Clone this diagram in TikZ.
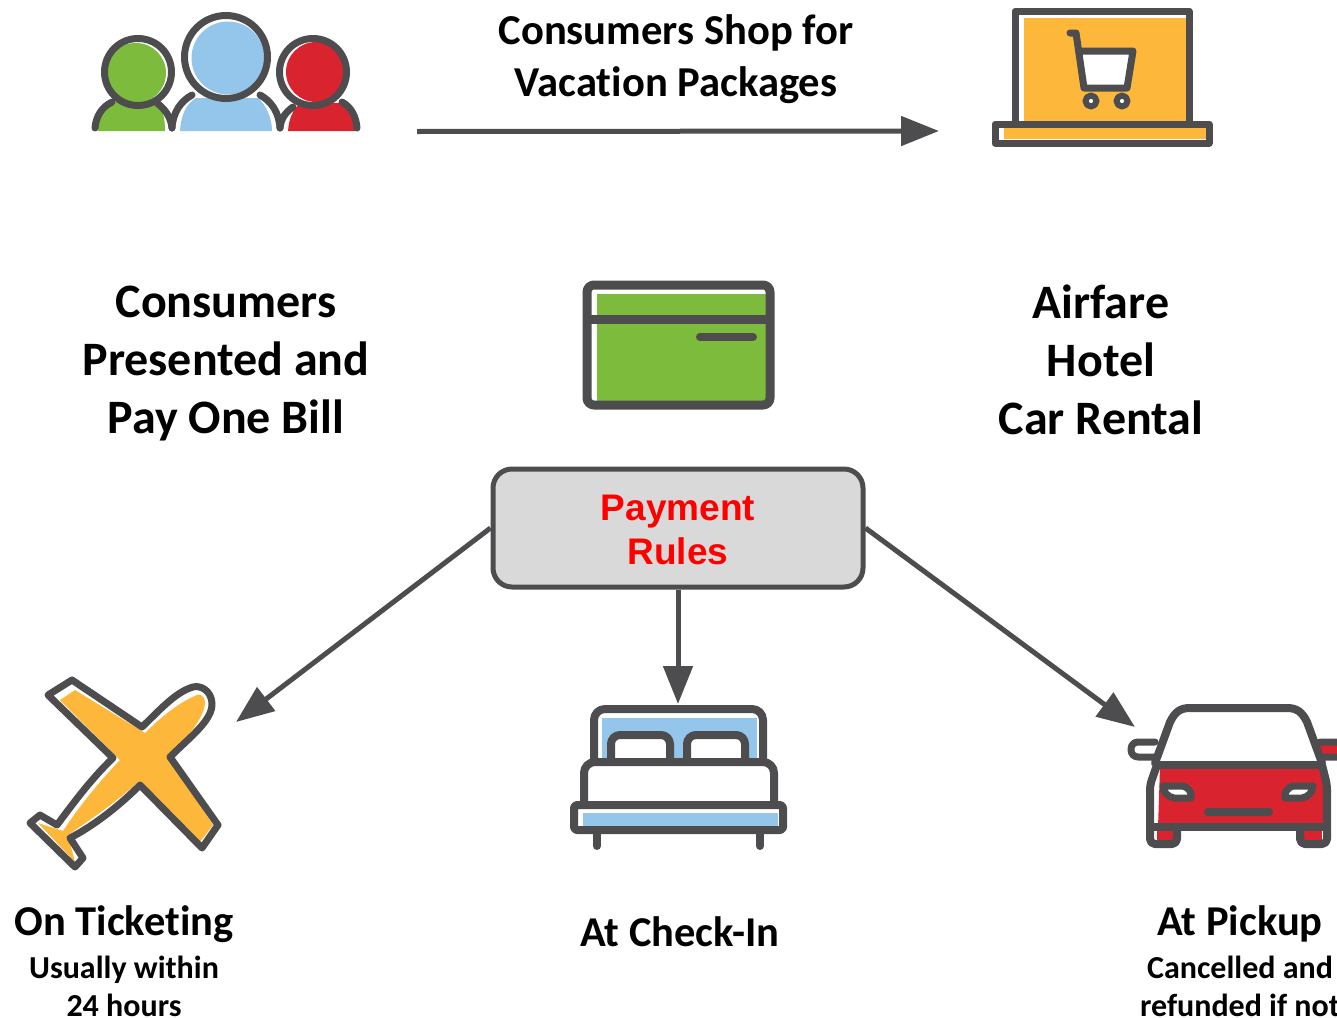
\documentclass[tikz,border=0pt]{standalone}
\usepackage{fontspec}
\setmainfont[Ligatures=NoCommon]{Carlito}
\newfontfamily\rulefont{Liberation Sans}
\usepackage{xcolor}
\usetikzlibrary{arrows.meta}
\definecolor{iconDark}{HTML}{4D4D4F}
\definecolor{iconOrange}{HTML}{FDB73A}
\definecolor{iconGreen}{HTML}{7DBB3C}
\definecolor{iconBlue}{HTML}{93C6EA}
\definecolor{iconRed}{HTML}{D9232E}
\definecolor{boxGrey}{HTML}{D9D9D9}
\tikzset{
  iconline/.style={draw=iconDark, line width=7pt, line join=round, line cap=round},
  flow/.style={draw=iconDark, line width=5pt, -{Triangle[length=38pt,width=29pt]}},
  biglabel/.style={align=center, inner sep=0pt, font=\fontsize{48}{58}\selectfont\bfseries},
  toplabel/.style={align=center, inner sep=0pt, font=\fontsize{42.6}{52}\selectfont\bfseries},
  headlabel/.style={align=center, inner sep=0pt, font=\fontsize{42.5}{45}\selectfont\bfseries},
  sublabel/.style={align=center, inner sep=0pt, font=\fontsize{32}{38}\selectfont\bfseries},
}
\begin{document}
\begin{tikzpicture}[x=1pt,y=-1pt]
        \useasboundingbox (0,0) rectangle (1337,1017);
        \clip (0,0) rectangle (1337,1017);

        % consumers
        \fill[iconGreen] (98,131) .. controls (98,115) and (106,104) .. (118,101) -- (155,101) .. controls (163,108) and (165,118) .. (165,131) -- cycle;
        \fill[iconGreen] (136,73) circle (30);
        \fill[iconBlue] (180,131) .. controls (181,115) and (186,104) .. (196,98) -- (258,98) .. controls (266,105) and (272,118) .. (272,131) -- cycle;
        \fill[iconBlue] (228,58) circle (36.5);
        \fill[iconRed] (288,131) .. controls (289,118) and (293,110) .. (300,103) -- (340,103) .. controls (348,108) and (354,118) .. (355,131) -- cycle;
        \fill[iconRed] (316,72) circle (30);
        \draw[iconline] (138,72) circle (33.5);
        \draw[iconline] (226,57) circle (41.5);
        \draw[iconline] (313,72) circle (33.5);
        \draw[iconline] (95,128) .. controls (96,116) and (102,107) .. (112,102);
        \draw[iconline] (157,103) .. controls (166,110) and (171,118) .. (172,128);
        \draw[iconline] (172,128) .. controls (173,112) and (181,101) .. (192,95);
        \draw[iconline] (260,95) .. controls (271,101) and (279,112) .. (280,128);
        \draw[iconline] (280,128) .. controls (281,118) and (286,112) .. (293,107);
        \draw[iconline] (342,102) .. controls (351,107) and (356,116) .. (357,128);

        % laptop with cart
        \fill[iconOrange] (1024,18) rectangle (1187,122);
        \draw[iconline] (1015,123) -- (1015,11) -- (1189,11) -- (1189,123);
        \fill[white] (995,124) rectangle (1209,143);
        \fill[iconOrange] (1004,127) rectangle (1206,139);
        \draw[iconline] (995,124) rectangle (1209,143);
        \fill[white] (1082,51) -- (1133,51) -- (1127,88) -- (1086,88) -- cycle;
        \draw[iconline] (1070,33) -- (1076,33) -- (1084,88) -- (1127,88) -- (1133,51) -- (1079,51);
        \draw[iconline, line width=6pt, fill=white] (1091,101) circle (5.5);
        \draw[iconline, line width=6pt, fill=white] (1122,101) circle (5.5);

        % shopping arrow
        \coordinate (shopfrom) at (417,131.5);
        \coordinate (shopto) at (939,131);
        \draw[flow] (shopfrom) -- (shopto);
        \node[toplabel] (shoptext) at (676,59.5) {Consumers Shop for\\Vacation Packages};

        % left and right texts
        \node[biglabel] (billtext) at (226,364) {Consumers\\Presented and\\Pay One Bill};
        \node[biglabel] (itemtext) at (1101,359.5) {Airfare\\Hotel\\Car Rental};

        % card
        \fill[iconGreen] (597,294) rectangle (766,402);
        \draw[iconline, line width=9pt, rounded corners=7pt] (587,285) rectangle (770,405);
        \draw[iconline, line width=9pt, line cap=butt] (587,319) -- (770,319);
        \draw[iconline, line width=8pt] (700,337) -- (753,337);

        % payment rules
        \node[draw=iconDark, line width=5pt, fill=boxGrey, rounded corners=19pt, minimum width=370pt, minimum height=118pt] (rules) at (678,528) {};
        \node[align=center, text=red, inner sep=0pt, font=\fontsize{37}{44}\rulefont\bfseries] (rulestext) at (678,530) {Payment\\Rules};

        % plane
        \fill[iconOrange] (75,690) -- (60,700) -- (120,760) .. controls (98,783) and (78,808) .. (63,831) -- (38,823) -- (75,862) -- (68,835)
              .. controls (90,820) and (115,803) .. (138,782) -- (200,842) -- (213,825) -- (168,757) .. controls (185,740) and (205,718) .. (205,702)
              .. controls (204,695) and (200,694) .. (197,695) .. controls (180,702) and (162,716) .. (145,733) -- cycle;
        \draw[iconline] (72,680) -- (48,695) -- (113,758) .. controls (90,780) and (72,805) .. (57,825) -- (40,815) -- (30,823)
              -- (75,867) -- (83,858) -- (70,838) .. controls (95,825) and (120,805) .. (140,785) -- (202,848) -- (218,825) -- (170,757)
              .. controls (190,737) and (213,720) .. (212,703) .. controls (211,690) and (200,685) .. (193,687) .. controls (175,692) and (158,712) .. (142,727) -- cycle;
        \coordinate (planetip) at (236,722);

        % bed
        \fill[iconBlue] (602,718) rectangle (757,760);
        \draw[iconline, line width=8pt, rounded corners=11pt] (594,760) -- (594,709) -- (763,709) -- (763,760);
        \draw[iconline, line width=8pt, fill=white, rounded corners=9pt] (611,760) -- (611,735) -- (670,735) -- (670,760);
        \draw[iconline, line width=8pt, fill=white, rounded corners=9pt] (687,760) -- (687,735) -- (745,735) -- (745,760);
        \draw[iconline, line width=8pt, fill=white, rounded corners=11pt] (584,804) -- (584,762) -- (774,762) -- (774,804);
        \fill[iconBlue] (583,813) rectangle (778,827);
        \draw[iconline, line width=8pt, rounded corners=3pt] (574,805) rectangle (783,830);
        \draw[iconline, line width=8pt] (597,832) -- (597,846);
        \draw[iconline, line width=8pt] (760,832) -- (760,846);
        \coordinate (bedtip) at (678,704);

        % car
        \fill[iconRed] (1160,767) -- (1320,767) -- (1327,785) -- (1327,827) -- (1158,827) -- cycle;
        \fill[iconRed] (1157,827) rectangle (1174,842);
        \fill[iconRed] (1304,827) rectangle (1322,842);
        \fill[iconRed] (1318,745) rectangle (1337,755);
        \draw[iconline, line width=8pt] (1155,763) -- (1170,722) .. controls (1175,712) and (1180,708) .. (1190,708) -- (1287,708) .. controls (1297,708) and (1302,712) .. (1307,722) -- (1322,763);
        \draw[iconline, line width=8pt] (1160,765) -- (1320,765);
        \draw[iconline, rounded corners=7pt] (1155,742) -- (1131,742) -- (1131,757) -- (1155,757);
        \draw[iconline, rounded corners=7pt] (1320,742) -- (1345,742) -- (1345,757) -- (1320,757);
        \draw[iconline, line width=8pt, rounded corners=5pt] (1157,765) -- (1150,785) -- (1150,844) -- (1177,844) -- (1177,828);
        \draw[iconline, line width=8pt, rounded corners=5pt] (1322,765) -- (1327,785) -- (1327,844) -- (1300,844) -- (1300,828);
        \draw[iconline, line width=8pt] (1150,827) -- (1327,827);
        \draw[iconline, fill=white] (1163,786) -- (1182,786) .. controls (1189,787) and (1192,793) .. (1191,798) -- (1174,798) .. controls (1168,797) and (1163,792) .. (1163,786) -- cycle;
        \draw[iconline, fill=white] (1313,786) -- (1294,786) .. controls (1287,787) and (1284,793) .. (1285,798) -- (1302,798) .. controls (1308,797) and (1313,792) .. (1313,786) -- cycle;
        \draw[iconline, line width=8pt] (1208,812) -- (1269,812);
        \coordinate (cartip) at (1135,727);

        % rule arrows
        \draw[flow] (rules.west) -- (planetip);
        \draw[flow] (rules.south) -- (bedtip);
        \draw[flow] (rules.east) -- (cartip);

        % bottom texts
        \node[headlabel] (tickettext) at (124,924) {On Ticketing};
        \node[sublabel] (ticketsub) at (124,986) {Usually within\\24 hours};
        \node[headlabel] (checktext) at (680,932) {At Check-In};
        \node[headlabel] (pickuptext) at (1240,924) {At Pickup};
        \node[sublabel] (pickupsub) at (1240,986) {Cancelled and\\refunded if not};
    \end{tikzpicture}
\end{document}
